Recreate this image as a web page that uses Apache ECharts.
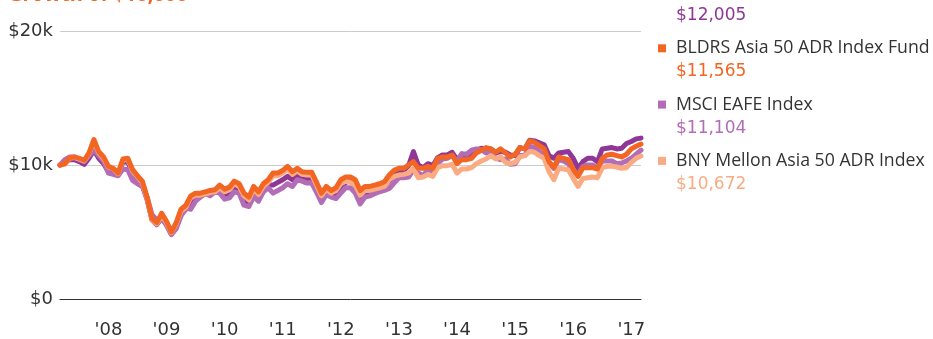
<!DOCTYPE html>
<html>
<head>
<meta charset="utf-8">
<script src="https://cdn.jsdelivr.net/npm/echarts@6/dist/echarts.min.js"></script>
<style>
html,body{margin:0;padding:0;background:#fff;}
#chart{width:933px;height:339px;}
</style>
</head>
<body>
<div id="chart"></div>
<script>
// Monthly points, Mar 2007 .. Mar 2017 (121 months)
const startYear = 2007, startMonth = 3, monthCount = 121;
const tickLabels = ["'08","'09","'10","'11","'12","'13","'14","'15","'16","'17"];
const yTickLabels = {0: "$0", 10000: "$10k", 20000: "$20k"};
const titleText = "Growth of $10,000";

const seriesNames = ["Benchmark", "BLDRS Asia 50 ADR Index Fund", "MSCI EAFE Index", "BNY Mellon Asia 50 ADR Index"];
const finalLabels = ["$12,005", "$11,565", "$11,104", "$10,672"];
const showName = [false, true, true, true];

const darkPurple = [
 10000,10250,10400,10400,10250,10050,10500,11100,10500,10100,
 9500,9450,9300,10250,10200,9400,9000,8500,7400,5900,
 5550,6050,5550,4850,5400,6300,6700,7100,7500,7650,
 7850,7800,8000,8000,7650,7750,8250,8100,7300,7150,
 7900,7600,8200,8500,8500,8700,8900,9150,8900,9200,
 9100,9000,9050,8200,7300,7900,7700,7800,8300,8700,
 8800,8500,7400,7850,8000,8150,8300,8400,8800,9150,
 9500,9600,9950,11000,10000,9800,10100,9950,10550,10750,
 10750,10950,10400,10750,10700,10900,11100,11250,11150,11200,
 10900,11000,10950,10750,10700,11300,11200,11850,11800,11650,
 11500,10700,10500,10900,10950,11000,10500,9750,10250,10500,
 10500,10250,11200,11250,11300,11200,11250,11600,11750,11950,
 12005];

const bldrs = [
 10000,10100,10550,10600,10500,10350,10900,11900,11000,10600,
 9900,9750,9400,10450,10500,9650,9200,8800,7600,6000,
 5700,6400,5800,5000,5700,6700,7000,7700,7900,7900,
 8000,8100,8150,8500,8200,8350,8800,8600,7900,7600,
 8400,8000,8600,8900,9400,9400,9600,9900,9500,9750,
 9500,9450,9450,8700,7900,8400,8100,8300,8900,9100,
 9100,8900,8100,8400,8400,8500,8600,8750,9250,9600,
 9750,9750,10000,10250,9750,9750,9900,9750,10500,10600,
 10600,10750,10100,10400,10400,10500,10900,11100,11300,11200,
 10950,11200,10900,10600,10800,11300,11200,11800,11700,11450,
 11200,10250,9800,10600,10500,10400,9700,9150,9800,9800,
 9800,9700,10500,10750,10800,10700,10600,10800,11200,11400,
 11565];

const msciEafe = [
 10000,10400,10600,10600,10400,10250,10700,11150,10700,10300,
 9400,9300,9200,9700,9650,8850,8600,8400,7600,6300,
 5900,6050,5500,4800,5250,6200,6800,6700,7300,7600,
 7900,7700,8000,7900,7450,7550,8000,7900,7000,6900,
 7650,7300,8000,8300,7900,8100,8300,8600,8400,8900,
 8800,8650,8650,7950,7200,7800,7600,7500,7900,8300,
 8300,7900,7100,7600,7700,7850,8000,8100,8250,8650,
 9050,9050,9100,9650,9400,9200,9650,9450,10100,10450,
 10500,10700,10250,10850,10800,11100,11200,11150,10900,10950,
 10500,10400,10450,10050,10100,10700,10700,11400,11300,11000,
 10700,10200,9750,10400,10300,10100,9500,9300,9900,10000,
 10000,9800,10300,10300,10300,10100,10150,10300,10500,10800,
 11104];

const bnyMellon = [
 10000,10050,10500,10550,10450,10300,10850,11800,10900,10500,
 9850,9700,9350,10400,10400,9550,9100,8700,7500,5900,
 5600,6250,5700,4950,5600,6550,6850,7550,7750,7750,
 7850,7950,8000,8300,8000,8150,8600,8400,7700,7400,
 8200,7800,8400,8700,9200,9200,9400,9700,9300,9550,
 9300,9250,9250,8500,7700,8200,7900,8100,8600,8800,
 8700,8500,7750,8100,8100,8200,8300,8400,8900,9150,
 9250,9300,9400,9750,9050,9100,9300,9150,9800,9950,
 9950,10050,9400,9700,9700,9800,10100,10300,10450,10700,
 10450,10600,10200,10100,10200,10600,10700,11000,10950,10700,
 10500,9500,8900,9750,9700,9650,9000,8400,9000,9050,
 9100,9050,9800,9900,9900,9850,9750,9800,10200,10500,
 10672];

const seriesData = [darkPurple, bldrs, msciEafe, bnyMellon];
const colors = ["#8f3797", "#f26522", "#b36cb6", "#fbab82"];
const drawOrder = [0, 2, 3, 1];

// month category keys
const categories = [];
for (let i = 0; i < monthCount; i++) {
  const m = (startMonth - 1 + i) % 12 + 1;
  const y = startYear + Math.floor((startMonth - 1 + i) / 12);
  categories.push(y + "-" + (m < 10 ? "0" + m : m));
}
const tickMap = {};
tickLabels.forEach((t, k) => { tickMap[(2008 + k) + "-01"] = t; });

const FONT = "'Open Sans', sans-serif";
const NUMFONT = "'DejaVu Sans', sans-serif";
const chart = echarts.init(document.getElementById('chart'), null, {renderer: 'canvas'});

const series = drawOrder.map(idx => ({
  name: seriesNames[idx],
  type: 'line',
  data: seriesData[idx],
  symbol: 'none',
  smooth: false,
  z: 2 + drawOrder.indexOf(idx),
  lineStyle: {color: colors[idx], width: 5, join: 'round', cap: 'round'},
  itemStyle: {color: colors[idx]},
  animation: false
}));

const legendGraphics = [];
const legendX = 658, firstNameY = -8, rowStep = 56.3, valueOffset = 23.7;
seriesNames.forEach((n, i) => {
  const ny = firstNameY + i * rowStep;
  if (showName[i]) {
    legendGraphics.push({type: 'rect', left: legendX, top: ny - 4,
      shape: {width: 8, height: 8}, style: {fill: colors[i]}});
    legendGraphics.push({type: 'text', x: legendX + 18, y: ny,
      style: {text: n, fill: '#333', font: "17.7px " + FONT, verticalAlign: 'middle', align: 'left'}});
  }
  legendGraphics.push({type: 'text', x: legendX + 18, y: ny + valueOffset,
    style: {text: finalLabels[i], fill: colors[i], font: "17px " + NUMFONT, verticalAlign: 'middle', align: 'left'}});
});
legendGraphics.push({type: 'text', x: 8, y: -4.5,
  style: {text: titleText, fill: '#f26522', font: "bold 20px " + FONT, verticalAlign: 'middle', align: 'left'}});

chart.setOption({
  animation: false,
  backgroundColor: '#fff',
  grid: {left: 60, right: 292, top: 31, bottom: 40, containLabel: false},
  xAxis: {
    type: 'category',
    data: categories,
    boundaryGap: false,
    axisLine: {show: true, lineStyle: {color: '#333', width: 1}},
    axisTick: {show: false},
    splitLine: {show: false},
    axisLabel: {
      interval: (i, v) => tickMap[v] !== undefined,
      formatter: v => tickMap[v] || '',
      color: '#333', fontSize: 18, fontFamily: NUMFONT, margin: 22
    }
  },
  yAxis: {
    type: 'value',
    min: 0, max: 20000, interval: 10000,
    axisLine: {show: false},
    axisTick: {show: false},
    splitLine: {show: true, lineStyle: {color: '#cccccc', width: 1}},
    axisLabel: {
      formatter: v => yTickLabels[v] || '',
      color: '#333', fontSize: 18, fontFamily: NUMFONT, margin: 7
    }
  },
  series: series,
  graphic: legendGraphics
});
</script>
</body>
</html>
